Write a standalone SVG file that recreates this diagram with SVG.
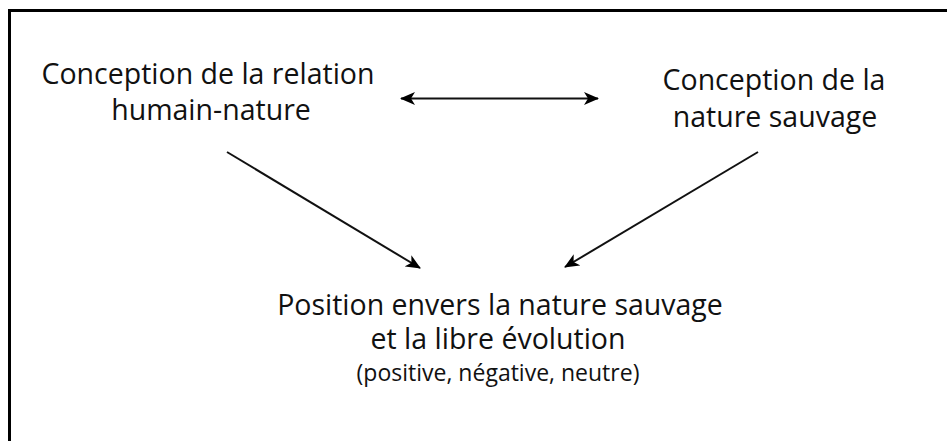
<svg xmlns="http://www.w3.org/2000/svg" width="947" height="441" viewBox="0 0 947 441">
<style>
.t{font-family:"Open Sans","Noto Sans",sans-serif;font-size:28.5px;fill:#111;text-anchor:middle}
.s{font-size:23px}
.c{stroke:#111;stroke-width:2;fill:none}
</style>
<defs>
<marker id="ah" viewBox="0 0 15 13" refX="14" refY="6.5" markerWidth="15" markerHeight="13" markerUnits="userSpaceOnUse" orient="auto-start-reverse">
<path d="M0,0 L15,6.5 L0,13 L4,6.5 Z" fill="#000"/>
</marker>
</defs>
<rect x="0" y="0" width="947" height="441" fill="#fff"/>
<path d="M9.5,441 V10.5 H947" fill="none" stroke="#000" stroke-width="3"/>
<g id="node-relation">
<text class="t" x="208" y="84">Conception de la relation</text>
<text class="t" x="211" y="120">humain-nature</text>
</g>
<g id="node-sauvage">
<text class="t" x="774" y="90">Conception de la</text>
<text class="t" x="775" y="127">nature sauvage</text>
</g>
<g id="node-position">
<text class="t" x="500" y="315">Position envers la nature sauvage</text>
<text class="t" x="498" y="349">et la libre évolution</text>
<text class="t s" x="498" y="381">(positive, négative, neutre)</text>
</g>
<g id="connectors">
<line class="c" x1="401" y1="98.5" x2="598" y2="98.5" stroke-width="2.5" marker-start="url(#ah)" marker-end="url(#ah)"/>
<line class="c" x1="227" y1="152" x2="420" y2="268" marker-end="url(#ah)"/>
<line class="c" x1="758" y1="152" x2="565" y2="267" marker-end="url(#ah)"/>
</g>
</svg>
